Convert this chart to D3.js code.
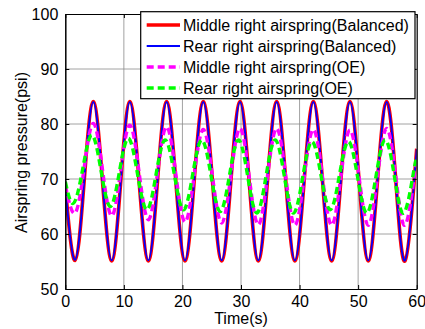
<!DOCTYPE html>
<html>
<head>
<meta charset="utf-8">
<script src="https://cdn.jsdelivr.net/npm/d3@7"></script>
<style>
  html, body { margin: 0; padding: 0; background: #fff; }
  svg { display: block; }
  text { font-family: Arial, "Liberation Sans", sans-serif; fill: #000; }
</style>
</head>
<body>
<svg id="chart" width="425" height="329"></svg>
<script>
// ---- Data ----
const xTicks = [0, 10, 20, 30, 40, 50, 60];
const yTicks = [50, 60, 70, 80, 90, 100];

const timeBalanced = [0, 1.66, 3.22, 4.78, 6.35, 7.92, 9.47, 11.02, 12.6, 14.18, 15.74, 17.3, 18.87, 20.44, 22.0, 23.56, 25.13, 26.7, 28.27, 29.83, 31.39, 32.95, 34.52, 36.09, 37.65, 39.2, 40.78, 42.35, 43.92, 45.48, 47.04, 48.6, 50.17, 51.73, 53.3, 54.87, 56.44, 58.0, 59.57, 60];
const middleBalanced = [68.6, 55.2, 69.6, 84.1, 69.6, 55.1, 69.6, 84.1, 69.6, 55.1, 69.6, 84.1, 69.6, 55.1, 69.6, 84.1, 69.6, 55.1, 69.6, 84.1, 69.6, 55.1, 69.6, 84.1, 69.6, 55.1, 69.6, 84.1, 69.6, 55.1, 69.6, 84.1, 69.6, 55.1, 69.6, 84.1, 69.6, 55.1, 69.6, 75.5];
const rearBalanced   = [68.6, 55.3, 69.6, 84.0, 69.6, 55.2, 69.6, 84.0, 69.6, 55.2, 69.6, 84.0, 69.6, 55.2, 69.6, 84.0, 69.6, 55.2, 69.6, 84.0, 69.6, 55.2, 69.6, 84.0, 69.6, 55.2, 69.6, 84.0, 69.6, 55.2, 69.6, 84.0, 69.6, 55.2, 69.6, 84.0, 69.6, 55.2, 69.6, 75.4];

const timeMiddleOE = timeBalanced;
const middleOE = [68.9, 63.8, 72.0, 80.1, 71.7, 63.3, 71.6, 79.8, 71.2, 62.6, 71.1, 79.5, 70.9, 62.2, 70.6, 79.0, 70.5, 62.0, 70.6, 79.2, 70.5, 61.7, 70.5, 79.2, 70.4, 61.6, 70.3, 79.0, 70.3, 61.6, 70.3, 78.9, 70.3, 61.6, 70.4, 79.2, 70.4, 61.6, 70.4, 73.8];

const timeRearOE = [0, 1.40, 2.97, 4.53, 6.10, 7.67, 9.22, 10.77, 12.35, 13.93, 15.49, 17.05, 18.62, 20.19, 21.75, 23.31, 24.88, 26.45, 28.02, 29.58, 31.14, 32.70, 34.27, 35.84, 37.40, 38.95, 40.53, 42.10, 43.67, 45.23, 46.79, 48.35, 49.92, 51.48, 53.05, 54.62, 56.19, 57.75, 59.32, 60];
const rearOE = [69.5, 65.6, 71.8, 78.0, 71.5, 65.0, 71.2, 77.4, 70.8, 64.4, 70.8, 77.1, 70.8, 64.4, 70.8, 77.1, 70.6, 64.1, 70.6, 77.1, 70.5, 63.8, 70.5, 77.1, 70.5, 63.8, 70.3, 76.8, 70.6, 64.4, 70.6, 76.8, 70.3, 63.8, 70.5, 77.1, 70.5, 63.8, 70.4, 74.0];

const seriesNames = [
  "Middle right airspring(Balanced)",
  "Rear right airspring(Balanced)",
  "Middle right airspring(OE)",
  "Rear right airspring(OE)"
];

// ---- Layout ----
const svg = d3.select("#chart");
const L = 65.3, R = 416.7, T = 14, B = 289;
const x = d3.scaleLinear().domain([0, 60]).range([L, R]);
const y = d3.scaleLinear().domain([50, 100]).range([B, T]);

const styles = [
  { color: "#ff0000", width: 3.6, dash: null },
  { color: "#0000ff", width: 1.8, dash: null },
  { color: "#ff00ff", width: 3.4, dash: "7,4" },
  { color: "#00ff00", width: 3.4, dash: "7,4" }
];
const series = [
  { t: timeBalanced, v: middleBalanced },
  { t: timeBalanced, v: rearBalanced },
  { t: timeMiddleOE, v: middleOE },
  { t: timeRearOE, v: rearOE }
];

// Grid
const grid = svg.append("g").attr("stroke", "#8a8a8a").attr("stroke-width", 0.8);
grid.selectAll(".gx").data(xTicks.slice(1, -1)).enter().append("line")
  .attr("x1", d => x(d)).attr("x2", d => x(d)).attr("y1", T).attr("y2", B);
grid.selectAll(".gy").data(yTicks.slice(1, -1)).enter().append("line")
  .attr("y1", d => y(d)).attr("y2", d => y(d)).attr("x1", L).attr("x2", R);

// Clip
svg.append("clipPath").attr("id", "clip").append("rect")
  .attr("x", L).attr("y", T).attr("width", R - L).attr("height", B - T);

const line = d3.line().curve(d3.curveNatural);
const lines = svg.append("g").attr("clip-path", "url(#clip)");
series.forEach((s, i) => {
  const pts = s.t.map((t, k) => [x(t), y(s.v[k])]);
  lines.append("path")
    .attr("d", line(pts))
    .attr("fill", "none")
    .attr("stroke", styles[i].color)
    .attr("stroke-width", styles[i].width)
    .attr("stroke-dasharray", styles[i].dash)
    .attr("stroke-linejoin", "round");
});

// Axes (box with inward ticks on all sides)
const tickLen = 4;
svg.append("g").attr("transform", `translate(0,${B})`)
  .call(d3.axisBottom(x).tickValues(xTicks).tickSizeInner(-tickLen).tickSizeOuter(0).tickPadding(7))
  .call(g => g.select(".domain").attr("stroke-width", 1.2));
svg.append("g").attr("transform", `translate(0,${T})`)
  .call(d3.axisTop(x).tickValues(xTicks).tickSizeInner(-tickLen).tickSizeOuter(0).tickFormat(""))
  .call(g => g.select(".domain").attr("stroke-width", 1.2));
svg.append("g").attr("transform", `translate(${L},0)`)
  .call(d3.axisLeft(y).tickValues(yTicks).tickSizeInner(-tickLen).tickSizeOuter(0).tickPadding(7))
  .call(g => g.select(".domain").attr("stroke-width", 1.5));
svg.append("g").attr("transform", `translate(${R},0)`)
  .call(d3.axisRight(y).tickValues(yTicks).tickSizeInner(-tickLen).tickSizeOuter(0).tickFormat(""))
  .call(g => g.select(".domain").attr("stroke-width", 1.2));
svg.selectAll(".tick text").attr("font-size", 16).attr("font-family", "Arial, 'Liberation Sans', sans-serif").attr("fill", "#000");
svg.selectAll(".tick line").attr("stroke", "#000");
svg.selectAll(".domain").attr("stroke", "#000");

// Axis titles
svg.append("text").attr("x", (L + R) / 2).attr("y", 324).attr("text-anchor", "middle")
  .attr("font-size", 16).text("Time(s)");
svg.append("text").attr("transform", `translate(27,${(T + B) / 2 + 1}) rotate(-90)`)
  .attr("text-anchor", "middle").attr("font-size", 16).text("Airspring pressure(psi)");

// Legend
const lg = svg.append("g");
lg.append("rect").attr("x", 140.7).attr("y", 11.7).attr("width", 274.3).attr("height", 87)
  .attr("fill", "#fff").attr("stroke", "#000").attr("stroke-width", 1.2);
const rowY = [25, 46, 67, 88];
seriesNames.forEach((name, i) => {
  lg.append("line").attr("x1", 146.7).attr("x2", 180).attr("y1", rowY[i]).attr("y2", rowY[i])
    .attr("stroke", styles[i].color)
    .attr("stroke-width", i === 1 ? 1.8 : 3.4)
    .attr("stroke-dasharray", styles[i].dash);
  lg.append("text").attr("x", 183).attr("y", rowY[i]).attr("dy", "0.36em")
    .attr("font-size", 16).text(name);
});
</script>
</body>
</html>
